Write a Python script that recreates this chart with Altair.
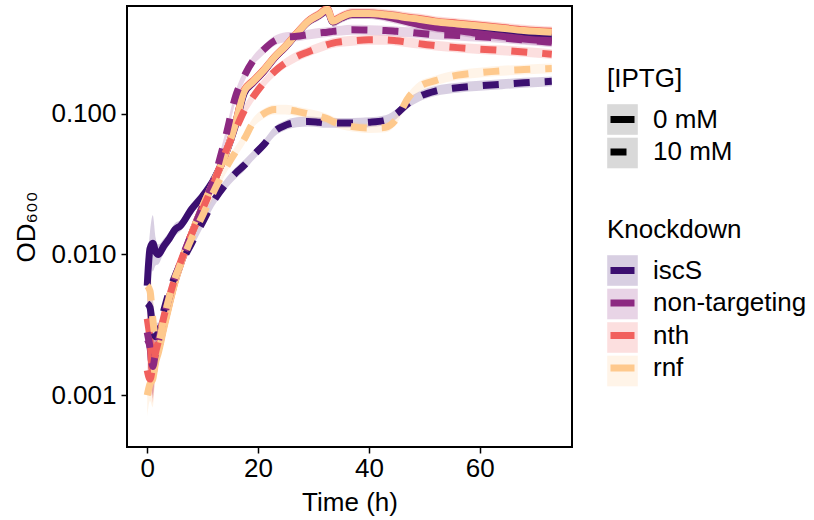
import altair as alt
import pandas as pd

# ---------------- data ----------------
KNOCKDOWN = ["iscS", "non-targeting", "nth", "rnf"]
COLORS = ["#3B0F70", "#8C2981", "#F1605D", "#FEC98D"]
IPTG_LEVELS = ["0 mM", "10 mM"]

TIME = [0, 0.5, 1, 1.5, 2, 3, 4, 5, 6, 8, 10, 12, 14, 16, 17.5, 19, 21, 23, 25,
        27, 29, 31, 32.5, 33.5, 35, 37, 40, 43, 45, 47, 49, 52, 56, 60, 64, 68, 73]

ISCS_0 = [0.006, 0.011, 0.012, 0.0105, 0.0100, 0.0115, 0.013, 0.015, 0.016,
          0.021, 0.026, 0.034, 0.050, 0.085, 0.140, 0.165, 0.20, 0.25, 0.30,
          0.37, 0.45, 0.50, 0.54, 0.45, 0.48, 0.51, 0.51, 0.50, 0.49, 0.47,
          0.46, 0.44, 0.42, 0.40, 0.38, 0.36, 0.35]
ISCS_10 = [0.0045, 0.0042, 0.0030, 0.0026, 0.0028, 0.0040, 0.0055, 0.0070, 0.0085,
           0.012, 0.017, 0.024, 0.031, 0.038, 0.043, 0.050, 0.060, 0.075, 0.083,
           0.087, 0.088, 0.087, 0.086, 0.086, 0.086, 0.086, 0.087, 0.090, 0.100,
           0.118, 0.132, 0.145, 0.153, 0.158, 0.162, 0.166, 0.170]
NT_0 = [0.0025, 0.0022, 0.0015, 0.0018, 0.0021, 0.0032, 0.0046, 0.0065, 0.0085,
        0.014, 0.022, 0.033, 0.050, 0.088, 0.145, 0.165, 0.20, 0.25, 0.30,
        0.37, 0.45, 0.50, 0.54, 0.45, 0.48, 0.51, 0.51, 0.49, 0.47, 0.45,
        0.43, 0.41, 0.39, 0.37, 0.355, 0.34, 0.33]
NT_10 = [0.0028, 0.0022, 0.0016, 0.0020, 0.0024, 0.0036, 0.0050, 0.0068, 0.0088,
         0.014, 0.022, 0.034, 0.065, 0.135, 0.185, 0.235, 0.285, 0.33, 0.35,
         0.355, 0.365, 0.375, 0.38, 0.385, 0.39, 0.395, 0.393, 0.39, 0.385,
         0.38, 0.373, 0.365, 0.36, 0.352, 0.345, 0.335, 0.322]
NTH_0 = [0.0035, 0.0025, 0.0014, 0.0018, 0.0021, 0.0031, 0.0045, 0.0064, 0.0085,
         0.014, 0.022, 0.033, 0.050, 0.088, 0.148, 0.17, 0.205, 0.255, 0.305,
         0.375, 0.455, 0.51, 0.56, 0.46, 0.49, 0.52, 0.52, 0.51, 0.50, 0.485,
         0.475, 0.455, 0.44, 0.425, 0.41, 0.395, 0.385]
NTH_10 = [0.0015, 0.0013, 0.0016, 0.0020, 0.0024, 0.0036, 0.0050, 0.0068, 0.0088,
          0.014, 0.021, 0.032, 0.052, 0.078, 0.105, 0.13, 0.165, 0.20, 0.23,
          0.255, 0.275, 0.295, 0.31, 0.318, 0.325, 0.33, 0.335, 0.335, 0.33,
          0.322, 0.315, 0.305, 0.295, 0.288, 0.282, 0.275, 0.265]
RNF_0 = [0.0010, 0.0012, 0.0013, 0.0017, 0.0020, 0.0030, 0.0044, 0.0063, 0.0085,
         0.014, 0.022, 0.033, 0.050, 0.087, 0.145, 0.168, 0.203, 0.253, 0.303,
         0.372, 0.452, 0.505, 0.55, 0.455, 0.485, 0.515, 0.515, 0.505, 0.495,
         0.48, 0.47, 0.45, 0.435, 0.42, 0.405, 0.39, 0.38]
RNF_10 = [0.0060, 0.0055, 0.0035, 0.0025, 0.0024, 0.0035, 0.0050, 0.0068, 0.0085,
          0.013, 0.019, 0.028, 0.040, 0.054, 0.066, 0.085, 0.100, 0.107, 0.107,
          0.104, 0.100, 0.096, 0.092, 0.088, 0.084, 0.081, 0.079, 0.080, 0.092,
          0.128, 0.155, 0.172, 0.188, 0.196, 0.202, 0.206, 0.210]

# ribbon half-width (log10 units), per time point
SPREAD = [0.15, 0.12, 0.20, 0.10, 0.07, 0.05, 0.045, 0.045, 0.04, 0.04, 0.04,
          0.04, 0.04, 0.04, 0.04, 0.035, 0.035, 0.035, 0.035, 0.035, 0.035,
          0.035, 0.035, 0.035, 0.035, 0.035, 0.035, 0.035, 0.035, 0.035, 0.035,
          0.035, 0.035, 0.035, 0.035, 0.035, 0.035]

SERIES = {
    ("iscS", "0 mM"): ISCS_0, ("iscS", "10 mM"): ISCS_10,
    ("non-targeting", "0 mM"): NT_0, ("non-targeting", "10 mM"): NT_10,
    ("nth", "0 mM"): NTH_0, ("nth", "10 mM"): NTH_10,
    ("rnf", "0 mM"): RNF_0, ("rnf", "10 mM"): RNF_10,
}

rows = []
for kd in KNOCKDOWN:
    for ip in IPTG_LEVELS:
        for t, v, s in zip(TIME, SERIES[(kd, ip)], SPREAD):
            rows.append({"Knockdown": kd, "KD_bg": kd, "IPTG": ip, "IPTG_bg": ip,
                         "time": t, "od": v, "lo": v / 10 ** s, "hi": v * 10 ** s})
df = pd.DataFrame(rows)
df_solid = df[df["IPTG"] == "0 mM"]
df_dash = df[df["IPTG"] == "10 mM"]

# ---------------- chart ----------------
FONT = "Liberation Sans"
FS = 26
DASH = [16, 15]
x_enc = alt.X("time:Q", title="Time (h)",
              scale=alt.Scale(domain=[-3.65, 76.65], nice=False, zero=False),
              axis=alt.Axis(values=[0, 20, 40, 60]))
y_scale = alt.Scale(type="log", domain=[0.000428, 0.583], nice=False)
y_axis = alt.Axis(values=[0.001, 0.01, 0.1], format=".3f")
y_od = alt.Y("od:Q", title="OD₆₀₀", scale=y_scale, axis=y_axis)
kd_scale = alt.Scale(domain=KNOCKDOWN, range=COLORS)

common_leg = dict(orient="none", titleFontSize=FS, labelFontSize=FS, titleFont=FONT,
                  labelFont=FONT, titleFontWeight="normal", padding=0,
                  labelOffset=15, rowPadding=2.5, titlePadding=12)
LX = 480
IPTG_Y = 60
KD_Y = 211

# ribbons; their legend gives the tinted key backgrounds (no text of its own)
ribbons = alt.Chart(df).mark_area(opacity=0.2, clip=True, interpolate="monotone").encode(
    x=x_enc,
    y=alt.Y("lo:Q", title="OD₆₀₀", scale=y_scale, axis=y_axis),
    y2="hi:Q",
    fill=alt.Fill("KD_bg:N", scale=kd_scale,
                  legend=alt.Legend(title=" ", legendX=LX, legendY=KD_Y,
                                    symbolType="square", symbolSize=936,
                                    symbolStrokeWidth=0, labelExpr="''",
                                    zindex=0, **common_leg)),
    detail="IPTG:N",
)

# grey key backgrounds of the [IPTG] legend
keys_bg = alt.Chart(df).mark_point(shape="square", filled=True, color="#D9D9D9",
                                   opacity=0, size=1, clip=True).encode(
    x=x_enc, y=y_od,
    shape=alt.Shape("IPTG_bg:N", scale=alt.Scale(domain=IPTG_LEVELS, range=["square", "square"]),
                    legend=alt.Legend(title=" ", legendX=LX, legendY=IPTG_Y,
                                      symbolSize=936, symbolStrokeWidth=0, symbolOpacity=1,
                                      symbolFillColor="#D9D9D9", labelExpr="''",
                                      zindex=0, **common_leg)),
)

lines_solid = alt.Chart(df_solid).mark_line(
    strokeWidth=7, clip=True, interpolate="monotone"
).encode(
    x=x_enc, y=y_od, detail="IPTG:N",
    color=alt.Color("Knockdown:N", scale=kd_scale, legend=None),
)

lines_dash = alt.Chart(df_dash).mark_line(
    strokeWidth=7, clip=True, interpolate="monotone", strokeDash=DASH
).encode(
    x=x_enc, y=y_od, detail="IPTG:N",
    color=alt.Color("Knockdown:N", scale=kd_scale, legend=None),
)

# invisible point layer carrying the Knockdown colour legend (solid strokes)
kd_key = alt.Chart(df_solid).mark_point(
    shape="stroke", filled=False, strokeWidth=7, opacity=0, size=1, clip=True
).encode(
    x=x_enc, y=y_od,
    color=alt.Color("Knockdown:N", scale=kd_scale,
                    legend=alt.Legend(title="Knockdown", legendX=LX, legendY=KD_Y,
                                      symbolType="stroke", symbolSize=576,
                                      symbolStrokeWidth=7, symbolOpacity=1,
                                      titleColor="black", labelColor="black",
                                      zindex=1, **common_leg)),
)

# invisible layer carrying the [IPTG] line-type legend
iptg_key = alt.Chart(df).mark_line(strokeWidth=7, opacity=0, color="black", clip=True).encode(
    x=x_enc, y=y_od, detail="Knockdown:N",
    strokeDash=alt.StrokeDash("IPTG:N",
                              scale=alt.Scale(domain=IPTG_LEVELS, range=[[1, 0], DASH]),
                              legend=alt.Legend(title="[IPTG]", legendX=LX, legendY=IPTG_Y,
                                                symbolType="stroke", symbolSize=576,
                                                symbolStrokeWidth=7, symbolStrokeColor="black",
                                                symbolOpacity=1,
                                                titleColor="black", labelColor="black",
                                                zindex=1, **common_leg)),
)

chart = alt.layer(ribbons, keys_bg, lines_solid, lines_dash, kd_key, iptg_key).resolve_legend(
    color="independent", fill="independent", shape="independent", strokeDash="independent"
).properties(
    width=445, height=441,
    autosize=alt.AutoSizeParams(type="none"),
    padding={"left": 127, "top": 6, "right": 242, "bottom": 73},
    background="white",
).configure(font=FONT).configure_view(
    stroke="black", strokeWidth=2, fill="white"
).configure_axis(
    labelFontSize=FS, titleFontSize=FS, labelFont=FONT, titleFont=FONT,
    titleFontWeight="normal", labelColor="black", titleColor="black",
    tickColor="black", tickWidth=1.5, tickSize=6, domain=False, grid=False,
).configure_axisX(labelPadding=2, titlePadding=8).configure_axisY(
    labelPadding=5, titlePadding=11
)

chart.save("out.html", embed_options={"renderer": "svg", "actions": False})
